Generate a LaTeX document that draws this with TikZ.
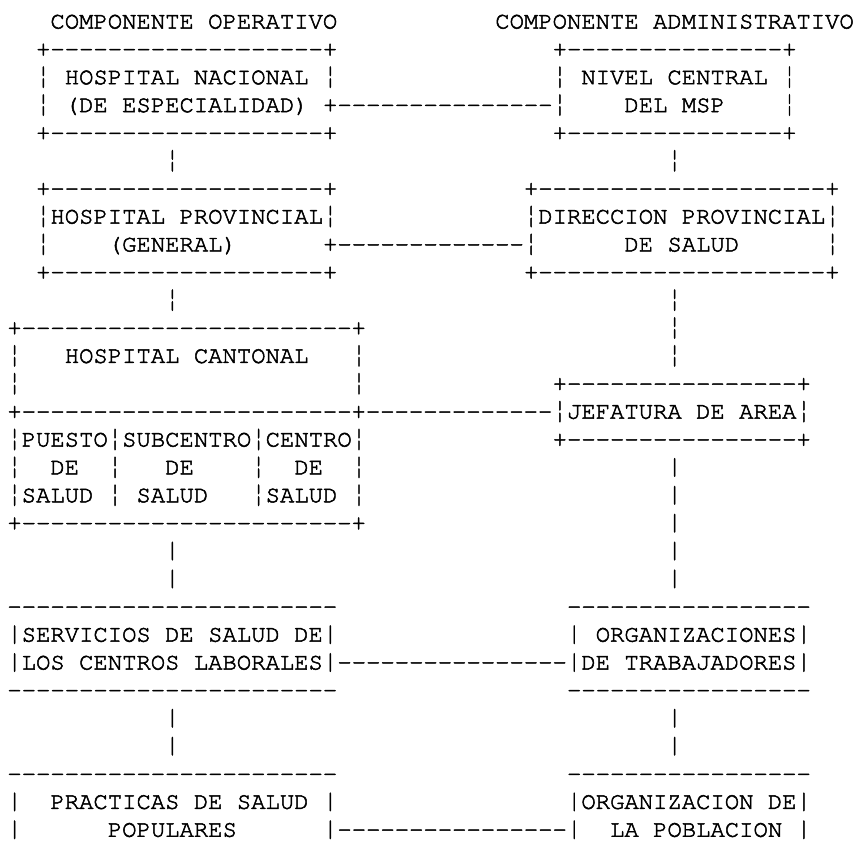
\documentclass[tikz,border=0pt]{standalone}
\usepackage[T1,TU]{fontenc}
\usepackage{graphicx}
\newcount\dcnt
\newcommand\dsh[1]{\dcnt=#1\relax\loop\ifnum\dcnt>0 -\kern0pt\advance\dcnt by -1\repeat}
\newcommand\courier{\fontencoding{T1}\fontfamily{pcr}\fontseries{m}\fontshape{n}\fontsize{23.9bp}{28bp}\selectfont}
% tall bars, as in the reference font (width kept at one character cell)
\newcommand\bb{\raisebox{-5bp}{\resizebox*{14.35bp}{24.4bp}{\raisebox{\depth}{\fontencoding{TS1}\selectfont\char166}}}}
\newcommand\vb{\raisebox{-5.4bp}{\resizebox*{14.35bp}{24.8bp}{\raisebox{\depth}{|}}}}
\tikzset{ch/.style={inner sep=0pt, outer sep=0pt, anchor=base west, font=\courier, text=black,
  execute at begin node={\special{pdf:literal direct 2 Tr 0.5 w}},
  execute at end node={\special{pdf:literal direct 0 Tr}}}}
\newcommand\glyphat[4]{\node[ch] (#1) at ({7.4+14.35*(#3)},{28.5+27.87*((#2)-1)}) {#4};}
\begin{document}
\begin{tikzpicture}[x=1bp,y=-1bp]
\fill[white] (0,0) rectangle (857,854);
\useasboundingbox (0,0) rectangle (857,854);
% row 1
\glyphat{lbl-op}{1}{3}{COMPONENTE OPERATIVO}
\glyphat{lbl-adm}{1}{34}{COMPONENTE ADMINISTRATIVO}
% row 2
\glyphat{hn-top}{2}{2}{+\dsh{19}+}
\glyphat{nc-top}{2}{38}{+\dsh{15}+}
% row 3
\glyphat{hn-l3}{3}{2}{\bb}
\glyphat{hn-t1}{3}{4}{HOSPITAL NACIONAL}
\glyphat{hn-r3}{3}{22}{\bb}
\glyphat{nc-l3}{3}{38}{\bb}
\glyphat{nc-t1}{3}{40}{NIVEL CENTRAL}
\glyphat{nc-r3}{3}{54}{\bb}
% row 4
\glyphat{hn-l4}{4}{2}{\bb}
\glyphat{hn-t2}{4}{4}{(DE ESPECIALIDAD)}
\glyphat{c-hn-nc}{4}{22}{+\dsh{15}}
\glyphat{nc-l4}{4}{38}{\bb}
\glyphat{nc-t2}{4}{43}{DEL MSP}
\glyphat{nc-r4}{4}{54}{\bb}
% row 5
\glyphat{hn-bot}{5}{2}{+\dsh{19}+}
\glyphat{nc-bot}{5}{38}{+\dsh{15}+}
% row 6
\glyphat{v-l6}{6}{11}{\bb}
\glyphat{v-r6}{6}{46}{\bb}
% row 7
\glyphat{hp-top}{7}{2}{+\dsh{19}+}
\glyphat{dp-top}{7}{36}{+\dsh{20}+}
% row 8
\glyphat{hp-l8}{8}{2}{\bb}
\glyphat{hp-t1}{8}{3}{HOSPITAL PROVINCIAL}
\glyphat{hp-r8}{8}{22}{\bb}
\glyphat{dp-l8}{8}{36}{\bb}
\glyphat{dp-t1}{8}{37}{DIRECCION PROVINCIAL}
\glyphat{dp-r8}{8}{57}{\bb}
% row 9
\glyphat{hp-l9}{9}{2}{\bb}
\glyphat{hp-t2}{9}{7}{(GENERAL)}
\glyphat{c-hp-dp}{9}{22}{+\dsh{13}}
\glyphat{dp-l9}{9}{36}{\bb}
\glyphat{dp-t2}{9}{43}{DE SALUD}
\glyphat{dp-r9}{9}{57}{\bb}
% row 10
\glyphat{hp-bot}{10}{2}{+\dsh{19}+}
\glyphat{dp-bot}{10}{36}{+\dsh{20}+}
% row 11
\glyphat{v-l11}{11}{11}{\bb}
\glyphat{v-r11}{11}{46}{\bb}
% row 12
\glyphat{hc-top}{12}{0}{+\dsh{23}+}
\glyphat{v-r12}{12}{46}{\bb}
% row 13
\glyphat{hc-l13}{13}{0}{\bb}
\glyphat{hc-t}{13}{4}{HOSPITAL CANTONAL}
\glyphat{hc-r13}{13}{24}{\bb}
\glyphat{v-r13}{13}{46}{\bb}
% row 14
\glyphat{hc-l14}{14}{0}{\bb}
\glyphat{hc-r14}{14}{24}{\bb}
\glyphat{ja-top}{14}{38}{+\dsh{16}+}
% row 15
\glyphat{hc-mid}{15}{0}{+\dsh{23}+\dsh{13}}
\glyphat{ja-l}{15}{38}{\bb}
\glyphat{ja-t}{15}{39}{JEFATURA DE AREA}
\glyphat{ja-r}{15}{55}{\bb}
% row 16
\glyphat{s-a16}{16}{0}{\bb}
\glyphat{ps-t1}{16}{1}{PUESTO}
\glyphat{s-b16}{16}{7}{\bb}
\glyphat{sc-t1}{16}{8}{SUBCENTRO}
\glyphat{s-c16}{16}{17}{\bb}
\glyphat{cs-t1}{16}{18}{CENTRO}
\glyphat{s-d16}{16}{24}{\bb}
\glyphat{ja-bot}{16}{38}{+\dsh{16}+}
% row 17
\glyphat{s-a17}{17}{0}{\bb}
\glyphat{ps-t2}{17}{3}{DE}
\glyphat{s-b17}{17}{7}{\bb}
\glyphat{sc-t2}{17}{11}{DE}
\glyphat{s-c17}{17}{17}{\bb}
\glyphat{cs-t2}{17}{20}{DE}
\glyphat{s-d17}{17}{24}{\bb}
\glyphat{v-r17}{17}{46}{\vb}
% row 18
\glyphat{s-a18}{18}{0}{\bb}
\glyphat{ps-t3}{18}{1}{SALUD}
\glyphat{s-b18}{18}{7}{\bb}
\glyphat{sc-t3}{18}{9}{SALUD}
\glyphat{s-c18}{18}{17}{\bb}
\glyphat{cs-t3}{18}{18}{SALUD}
\glyphat{s-d18}{18}{24}{\bb}
\glyphat{v-r18}{18}{46}{\vb}
% row 19
\glyphat{hc-bot}{19}{0}{+\dsh{23}+}
\glyphat{v-r19}{19}{46}{\vb}
% row 20-21
\glyphat{v-l20}{20}{11}{\vb}
\glyphat{v-r20}{20}{46}{\vb}
\glyphat{v-l21}{21}{11}{\vb}
\glyphat{v-r21}{21}{46}{\vb}
% row 22
\glyphat{sl-top}{22}{0}{\dsh{23}}
\glyphat{ot-top}{22}{39}{\dsh{17}}
% row 23
\glyphat{sl-l23}{23}{0}{\vb}
\glyphat{sl-t1}{23}{1}{SERVICIOS DE SALUD DE}
\glyphat{sl-r23}{23}{22}{\vb}
\glyphat{ot-l23}{23}{39}{\vb}
\glyphat{ot-t1}{23}{41}{ORGANIZACIONES}
\glyphat{ot-r23}{23}{55}{\vb}
% row 24
\glyphat{sl-l24}{24}{0}{\vb}
\glyphat{sl-t2}{24}{1}{LOS CENTROS LABORALES}
\glyphat{sl-r24}{24}{22}{\vb}
\glyphat{c-sl-ot}{24}{23}{\dsh{16}}
\glyphat{ot-l24}{24}{39}{\vb}
\glyphat{ot-t2}{24}{40}{DE TRABAJADORES}
\glyphat{ot-r24}{24}{55}{\vb}
% row 25
\glyphat{sl-bot}{25}{0}{\dsh{23}}
\glyphat{ot-bot}{25}{39}{\dsh{17}}
% row 26-27
\glyphat{v-l26}{26}{11}{\vb}
\glyphat{v-r26}{26}{46}{\vb}
\glyphat{v-l27}{27}{11}{\vb}
\glyphat{v-r27}{27}{46}{\vb}
% row 28
\glyphat{pp-top}{28}{0}{\dsh{23}}
\glyphat{op-top}{28}{39}{\dsh{17}}
% row 29
\glyphat{pp-l29}{29}{0}{\vb}
\glyphat{pp-t1}{29}{3}{PRACTICAS DE SALUD}
\glyphat{pp-r29}{29}{22}{\vb}
\glyphat{op-l29}{29}{39}{\vb}
\glyphat{op-t1}{29}{40}{ORGANIZACION DE}
\glyphat{op-r29}{29}{55}{\vb}
% row 30
\glyphat{pp-l30}{30}{0}{\vb}
\glyphat{pp-t2}{30}{7}{POPULARES}
\glyphat{pp-r30}{30}{22}{\vb}
\glyphat{c-pp-op}{30}{23}{\dsh{16}}
\glyphat{op-l30}{30}{39}{\vb}
\glyphat{op-t2}{30}{42}{LA POBLACION}
\glyphat{op-r30}{30}{55}{\vb}
\end{tikzpicture}
\end{document}
